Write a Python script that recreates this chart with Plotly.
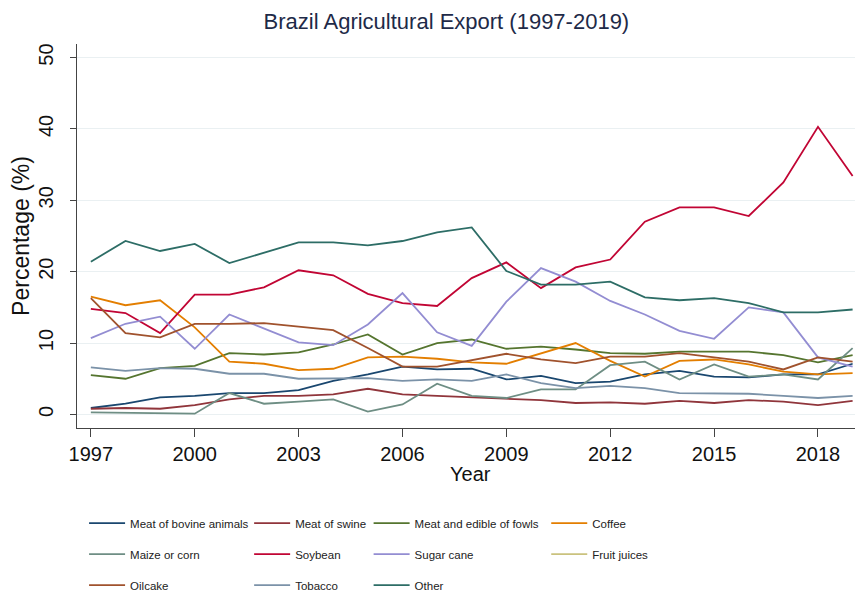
import plotly.graph_objects as go

years = list(range(1997, 2020))

# shares of agricultural exports (%)
bovine = [0.9, 1.5, 2.4, 2.6, 3.0, 3.0, 3.4, 4.7, 5.6, 6.7, 6.3, 6.4,
          4.9, 5.4, 4.4, 4.6, 5.6, 6.1, 5.3, 5.2, 5.6, 5.6, 7.1]
swine = [0.8, 0.9, 0.8, 1.3, 2.1, 2.6, 2.6, 2.8, 3.6, 2.8, 2.6, 2.4,
         2.1, 2.0, 1.6, 1.7, 1.5, 1.9, 1.6, 2.0, 1.8, 1.3, 1.9]
fowls = [5.5, 5.0, 6.5, 6.8, 8.6, 8.4, 8.7, 9.8, 11.2, 8.4, 10.0, 10.5,
         9.2, 9.5, 9.1, 8.6, 8.5, 8.8, 8.8, 8.8, 8.3, 7.3, 8.3]
coffee = [16.5, 15.3, 16.0, 12.2, 7.4, 7.1, 6.2, 6.4, 8.0, 8.1, 7.8, 7.3,
          7.1, 8.5, 10.0, 7.5, 5.3, 7.5, 7.7, 7.0, 6.0, 5.6, 5.8]
maize = [0.3, 0.2, 0.1, 0.1, 3.0, 1.5, 1.8, 2.1, 0.4, 1.4, 4.3, 2.6,
         2.3, 3.5, 3.5, 6.9, 7.4, 4.9, 7.0, 5.3, 5.6, 4.9, 9.3]
soybean = [14.8, 14.2, 11.4, 16.8, 16.8, 17.8, 20.2, 19.5, 16.9, 15.6, 15.2, 19.1,
           21.3, 17.7, 20.6, 21.7, 27.0, 29.0, 29.0, 27.8, 32.5, 40.3, 33.4]
sugar_cane = [10.7, 12.7, 13.7, 9.2, 14.0, 12.1, 10.1, 9.7, 12.6, 17.0, 11.5, 9.6,
              15.8, 20.5, 18.6, 15.9, 14.0, 11.7, 10.6, 15.0, 14.3, 8.0, 6.7]
fruit_juices = [None] * len(years)  # no visible line in the chart
oilcake = [16.3, 11.4, 10.8, 12.7, 12.7, 12.8, 12.3, 11.8, 9.3, 6.7, 6.7, 7.6,
           8.5, 7.7, 7.2, 8.1, 8.1, 8.6, 8.0, 7.4, 6.3, 8.0, 7.4]
tobacco = [6.6, 6.1, 6.5, 6.4, 5.7, 5.7, 5.0, 5.0, 5.1, 4.7, 4.9, 4.7,
           5.6, 4.4, 3.7, 4.0, 3.7, 3.0, 2.9, 2.9, 2.6, 2.3, 2.6]
other = [21.4, 24.3, 22.9, 23.9, 21.2, 22.6, 24.1, 24.1, 23.7, 24.3, 25.5, 26.2,
         20.1, 18.2, 18.2, 18.6, 16.4, 16.0, 16.3, 15.6, 14.3, 14.3, 14.7]

x_ticks = list(range(1997, 2019, 3))
y_ticks = [0, 10, 20, 30, 40, 50]

# (name, values, colour, legend column)
series = [
    ("Meat of bovine animals", bovine, "#1a476f", "legend"),
    ("Maize or corn", maize, "#6e8e84", "legend"),
    ("Oilcake", oilcake, "#a0522d", "legend"),
    ("Meat of swine", swine, "#90353b", "legend2"),
    ("Soybean", soybean, "#c10534", "legend2"),
    ("Tobacco", tobacco, "#7b92a8", "legend2"),
    ("Meat and edible of fowls", fowls, "#55752f", "legend3"),
    ("Sugar cane", sugar_cane, "#938dd2", "legend3"),
    ("Other", other, "#2d6d66", "legend3"),
    ("Coffee", coffee, "#e37e00", "legend4"),
    ("Fruit juices", fruit_juices, "#cac27e", "legend4"),
]

# drawing order as in the original (first series at the bottom)
draw_order = ["Meat of bovine animals", "Meat of swine", "Meat and edible of fowls",
              "Coffee", "Maize or corn", "Soybean", "Sugar cane", "Fruit juices",
              "Oilcake", "Tobacco", "Other"]

FONT = "Liberation Sans, Arial, sans-serif"

fig = go.Figure()
lookup = {s[0]: s for s in series}
for name in draw_order:
    _, vals, color, leg = lookup[name]
    fig.add_trace(go.Scatter(x=years, y=vals, mode="lines", name=name,
                             line=dict(color=color, width=1.8),
                             legend=leg, legendgroup=name))

legend_style = dict(orientation="v", yref="container",
                    yanchor="top", xanchor="left", y=0.16,
                    font=dict(family=FONT, size=11.5, color="#222222"),
                    itemwidth=36, tracegroupgap=12, bgcolor="rgba(0,0,0,0)",
                    traceorder="grouped")

fig.update_layout(
    width=863, height=596,
    paper_bgcolor="white", plot_bgcolor="white",
    margin=dict(l=69, r=8, t=36, b=176),
    title=dict(text="Brazil Agricultural Export (1997-2019)", x=0.508, xanchor="center",
               y=0.978, yanchor="middle",
               font=dict(family=FONT, size=22, color="#1e2a48")),
    legend=dict(x=0.009, **legend_style),
    legend2=dict(x=0.219, **legend_style),
    legend3=dict(x=0.371, **legend_style),
    legend4=dict(x=0.597, **legend_style),
    annotations=[dict(text="Year", xref="paper", yref="paper", x=0.5, y=-0.12,
                      xanchor="center", yanchor="middle", showarrow=False,
                      font=dict(family=FONT, size=20, color="#111111"))],
)

fig.update_xaxes(
    range=[1996.6, 2019.3], tickvals=x_ticks, ticks="outside", ticklen=8,
    tickcolor="#444444", showline=True, linecolor="#444444", linewidth=1,
    showgrid=False, zeroline=False, automargin=False,
    tickfont=dict(family=FONT, size=20, color="#111111"),
)
fig.update_yaxes(
    range=[-1.9, 51.9], tickvals=y_ticks, ticks="outside", ticklen=6,
    tickcolor="#444444", showline=True, linecolor="#444444", linewidth=1,
    showgrid=True, gridcolor="#eaf0f2", gridwidth=1, zeroline=False,
    tickangle=-90, ticklabelstandoff=9, automargin=False,
    tickfont=dict(family=FONT, size=20, color="#111111"),
    title=dict(text="Percentage (%)", font=dict(family=FONT, size=23, color="#111111"),
               standoff=0),
)

fig.write_html("out.html")
